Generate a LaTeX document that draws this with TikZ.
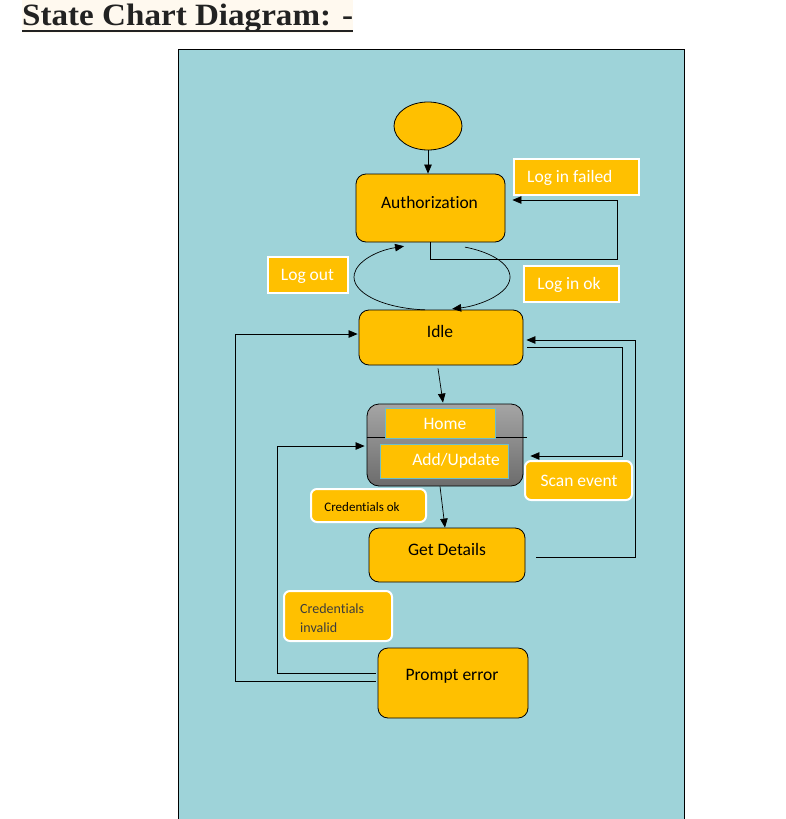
\documentclass[tikz,border=0pt]{standalone}
\usepackage{fontspec}
\setmainfont[Ligatures=NoCommon]{Carlito}
\newfontfamily\titlefont{Liberation Serif}
\usetikzlibrary{arrows.meta,calc,shapes.geometric}
\definecolor{teal1}{RGB}{158,211,217}
\definecolor{orng}{RGB}{255,192,0}
\definecolor{cream}{RGB}{255,249,239}
\definecolor{titletxt}{RGB}{34,34,34}
\definecolor{inborder}{RGB}{110,190,200}
\definecolor{darktxt}{RGB}{60,60,60}
\begin{document}
\begin{tikzpicture}[x=1pt,y=-1pt,
  state/.style={draw=black, fill=orng, rounded corners=10pt, line width=0.8pt, inner sep=0pt},
  tag/.style={draw=white, fill=orng, line width=2pt, inner sep=0pt},
  rtag/.style={tag, rounded corners=6pt},
  inbox/.style={draw=inborder, fill=orng, line width=1pt, inner sep=0pt},
  txt/.style={font=\fontsize{17.5}{20}\selectfont, inner sep=0pt},
  arr/.style={-{Triangle[length=9pt,width=7.5pt]}, line width=0.7pt},
  plain/.style={line width=0.7pt},
]
\useasboundingbox (0,0) rectangle (786,819);

% title
\node[fill=cream, anchor=north west, inner sep=0pt, minimum width=331pt, minimum height=33pt] (titlebg) at (22,0) {};
\node[anchor=base west, inner sep=0pt, text=titletxt] (title) at (22,25.5)
  {\resizebox{331pt}{\height}{\titlefont\bfseries\fontsize{31}{33}\selectfont State Chart Diagram: -}};
\draw[line width=2pt, titletxt] (22,31) -- (353,31);

% panel
\fill[teal1] (178,49) rectangle (684,819);
\draw[line width=0.8pt] (178,819) -- (178,49) -- (684,49) -- (684,819);

% states
\node[ellipse, draw=black, fill=orng, line width=0.8pt, minimum width=68pt, minimum height=48pt] (init) at (428,126) {};
\node[state, minimum width=149pt, minimum height=68pt] (auth) at (430.5,208) {};
\node[txt] (authT) at (429.5,202) {Authorization};

\node[tag, minimum width=125pt, minimum height=36pt] (failed) at (576.5,177) {};
\node[txt, text=white, anchor=west] (failedT) at (527,178) {Log in failed};

\node[tag, minimum width=80pt, minimum height=36pt] (logout) at (308,275) {};
\node[txt, text=white] (logoutT) at (307.5,276) {Log out};

\node[tag, minimum width=95pt, minimum height=36pt] (loginok) at (571.5,284) {};
\node[txt, text=white] (loginokT) at (569,285) {Log in ok};

\node[state, minimum width=164pt, minimum height=55pt] (idle) at (441,337.5) {};
\node[txt] (idleT) at (440,331) {Idle};

% composite
\node[draw=black, line width=0.8pt, rounded corners=12pt, top color={rgb,255:red,165;green,165;blue,165}, bottom color={rgb,255:red,108;green,108;blue,108}, minimum width=156pt, minimum height=82pt, inner sep=0pt] (group) at (445,445) {};
\draw[plain] ($(group.west)+(0,-8)$) -- ++(160,0);
\node[inbox, minimum width=110pt, minimum height=30pt] (home) at (440,423) {};
\node[txt, text=white] (homeT) at (445,424) {Home};
\node[inbox, minimum width=128pt, minimum height=34pt] (add) at (444,461) {};
\node[txt, text=white] (addT) at (456,461) {Add/Update};

\node[rtag, minimum width=115pt, minimum height=33pt] (credok) at (368.5,505.5) {};
\node[font=\fontsize{13}{15}\selectfont, inner sep=0pt] (credokT) at (362,507) {Credentials ok};

\node[state, minimum width=156pt, minimum height=54pt] (getd) at (447,555) {};
\node[txt] (getdT) at (447,549) {Get Details};

\node[rtag, minimum width=107pt, minimum height=39pt] (scan) at (578.5,480.5) {};
\node[txt, text=white] (scanT) at (579,481) {Scan event};

\node[rtag, minimum width=108pt, minimum height=50pt] (credinv) at (338,616) {};
\node[font=\fontsize{14}{19}\selectfont, inner sep=0pt, align=left, anchor=west, text=darktxt] (credinvT) at (300,618) {Credentials\\invalid};

\node[state, minimum width=150pt, minimum height=70pt] (prompt) at (453,683) {};
\node[txt] (promptT) at (452,676) {Prompt error};

% connectors
\draw[arr] (init.south) -- (init.south |- auth.north);
\draw[arr] (auth.south) |- (617,259) |- ($(auth.east)+(7,-8)$);

\coordinate (ec) at (432,277);
\draw[arr] ($(ec)+(95:78 and 33)$) arc[start angle=95, end angle=249, x radius=78, y radius=33];
\draw[arr] ($(ec)+(-65:78 and 33)$) arc[start angle=-65, end angle=75, x radius=78, y radius=33];

\draw[arr] ($(idle.south)+(-3,3)$) -- ($(group.north)+(-2,-1)$);
\draw[arr] ($(group.south)+(-5,0)$) -- ($(getd.north)+(-2,0)$);

\draw[arr] ($(getd.east)+(11,2)$) -| (635,340) -- ($(idle.east)+(3,2.5)$);
\draw[arr] ($(idle.east)+(4,9.5)$) -| (622,456) -- ($(group.east)+(7,11)$);

\draw[arr] ($(prompt.west)+(-2,-2)$) -| (235,334) -- ($(idle.west)+(-1,-3.5)$);
\draw[arr] ($(prompt.west)+(-2,-10)$) -| (277,446) -- ($(group.west)+(-2,1)$);
\end{tikzpicture}
\end{document}
